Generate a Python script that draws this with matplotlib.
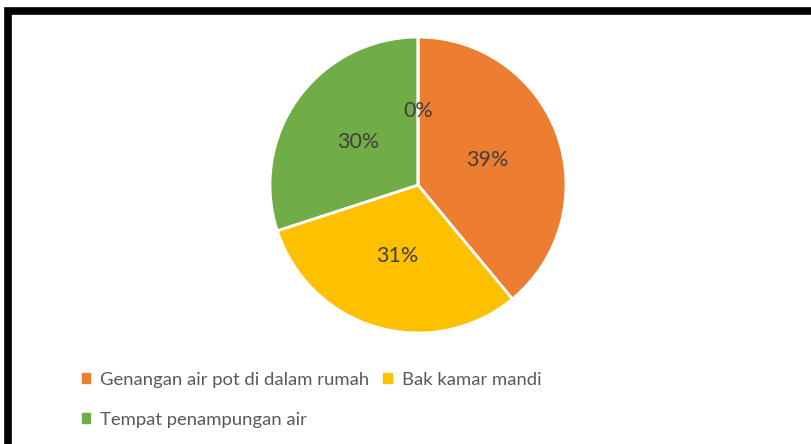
import matplotlib.pyplot as plt
from matplotlib.patches import Rectangle, Patch

categories = ["Genangan air pot di dalam rumah", "Bak kamar mandi", "Tempat penampungan air", ""]
values = [39, 31, 30, 0]
colors = ["#ED7D31", "#FFC000", "#70AD47", "#4472C4"]

plt.rcParams["font.family"] = ["Lato", "DejaVu Sans"]

fig = plt.figure(figsize=(8.12, 4.44), dpi=100)
W, H = 812, 444

# black frame, cut off at right and bottom like the screenshot
fig.patches.append(Rectangle((7.5 / W, -0.2), 1.2, 1.2 - 11.5 / H,
                             transform=fig.transFigure, fill=False,
                             edgecolor="black", linewidth=5.5, zorder=10))

cx, cy, r = 418, 185, 148
ax = fig.add_axes([(cx - r) / W, 1 - (cy + r) / H, 2 * r / W, 2 * r / H])
wedges, texts, autotexts = ax.pie(values, colors=colors, startangle=90, counterclock=False,
                                  autopct="%.0f%%", pctdistance=0.5,
                                  wedgeprops=dict(edgecolor="white", linewidth=2),
                                  textprops=dict(color="#404040", fontsize=15.5))
ax.set_xlim(-1, 1)
ax.set_ylim(-1, 1)
ax.axis("off")

handles = [Patch(color=colors[i]) for i in range(3)]
order = [0, 2, 1]
fig.legend([handles[i] for i in order], [categories[i] for i in order],
           loc="upper left", bbox_to_anchor=(82 / W, 1 - 372 / H), ncol=2,
           frameon=False, fontsize=13.3, labelcolor="#595959",
           handlelength=0.45, handleheight=0.45, handletextpad=0.55,
           columnspacing=0.75, labelspacing=1.3, borderpad=0, borderaxespad=0)

fig.savefig("out.png", dpi=100)
